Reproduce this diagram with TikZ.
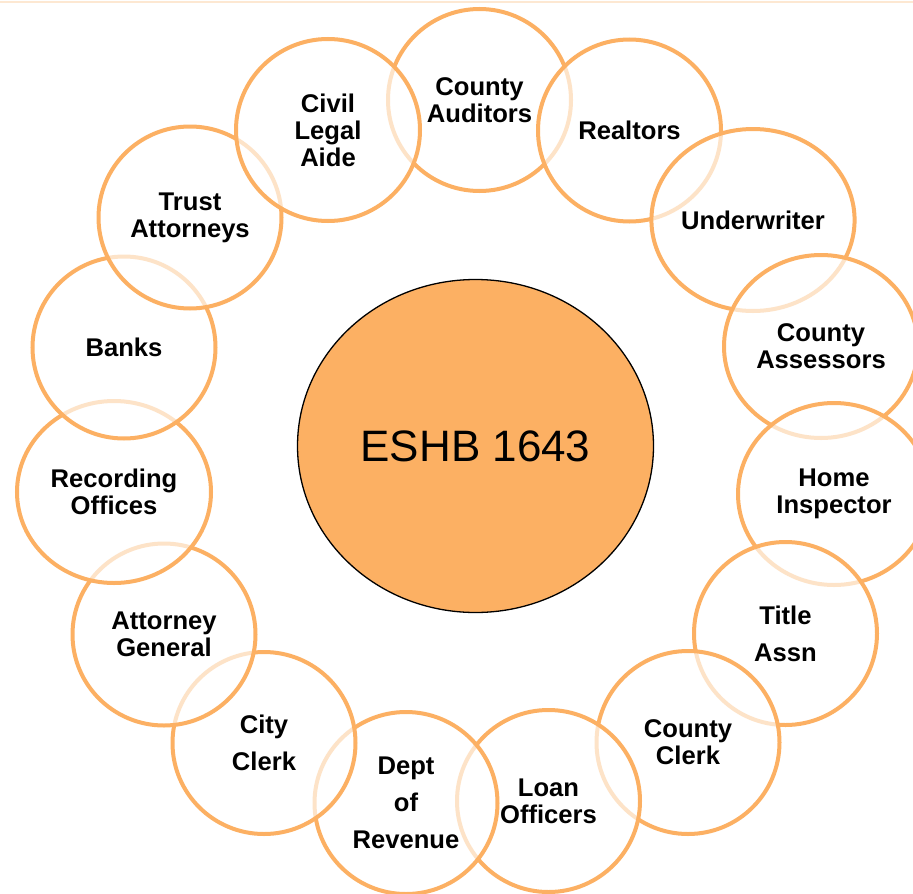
\documentclass[tikz,border=0pt]{standalone}
\usepackage{fontspec}
\setmainfont{Liberation Sans}
\usetikzlibrary{shapes.geometric}
\definecolor{ringc}{HTML}{FCB063}
\definecolor{toplinec}{HTML}{FDE8D2}
\begin{document}
\begin{tikzpicture}[x=1pt,y=-1pt,
  ringnode/.style={ellipse, draw=ringc, line width=4pt, fill=white, fill opacity=0.65,
    text opacity=1, inner sep=0pt, align=center,
    minimum width=183pt, minimum height=182pt,
    font=\bfseries\fontsize{25.6}{27}\selectfont},
  widelines/.style={font=\bfseries\fontsize{25.6}{37}\selectfont},
  hub/.style={ellipse, draw=black, line width=1.3pt, fill=ringc, inner sep=0pt,
    minimum width=356pt, minimum height=333pt,
    font=\fontsize{44}{50}\selectfont}]
\useasboundingbox (0,0) rectangle (913,894);
\fill[white] (0,0) rectangle (913,894);
\draw[toplinec, line width=2pt] (0,2) -- (913,2);

\node[hub] (hub) at (475.5,446) {ESHB 1643};

\node[ringnode] (n1) at (479.5,100) {County\\Auditors};
\node[ringnode] (n2) at (629.5,130.5) {Realtors};
\node[ringnode, minimum width=198pt] (n3) at (753,220) {Underwriter};
\node[ringnode, minimum width=194pt, minimum height=183pt] (n4) at (821,346.5) {County\\Assessors};
\node[ringnode, minimum width=192pt] (n5) at (834,494) {Home\\Inspector};
\node[ringnode, widelines, minimum height=183pt] (n6) at (785.5,633.5) {Title\\Assn};
\node[ringnode, minimum height=183pt] (n7) at (688,742.5) {County\\Clerk};
\node[ringnode] (n8) at (548.5,801) {Loan\\Officers};
\node[ringnode, widelines] (n9) at (406,803) {Dept\\of\\Revenue};
\node[ringnode, widelines] (n10) at (264,743) {City\\Clerk};
\node[ringnode] (n11) at (164,634.5) {Attorney\\General};
\node[ringnode, minimum width=194pt] (n12) at (114,492) {Recording\\Offices};
\node[ringnode] (n13) at (124,347.5) {Banks};
\node[ringnode] (n14) at (190,217.5) {Trust\\Attorneys};
\node[ringnode, minimum width=184pt] (n15) at (328,130) {Civil\\Legal\\Aide};
\end{tikzpicture}
\end{document}
